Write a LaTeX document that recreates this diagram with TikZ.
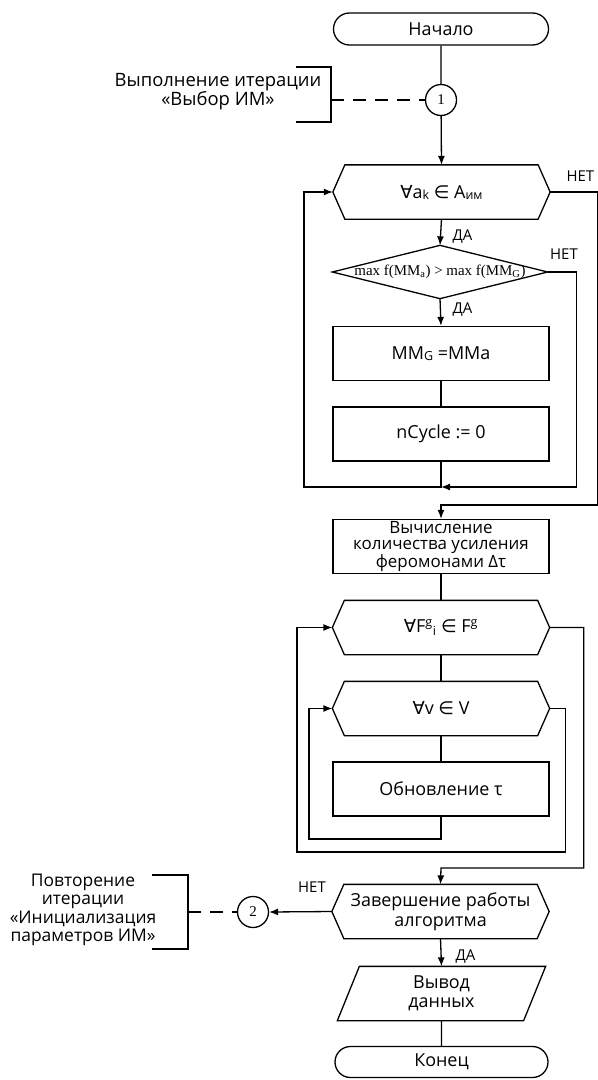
\documentclass[tikz,border=0pt]{standalone}
\usepackage{fontspec}
\setmainfont{Open Sans}
\newfontfamily\symfont{DejaVu Sans}
\newfontfamily\serifrm{Liberation Serif}
\usepackage{tikz}
\usetikzlibrary{arrows.meta}
\usetikzlibrary{shapes}
\usetikzlibrary{positioning}
\tikzset{
  fcnode/.style = {align=center, inner sep=0pt, text centered,
    font=\fontsize{18}{19}\selectfont},
  fc_term/.style = {fcnode, rounded rectangle, draw=black,
    minimum width=215bp, minimum height=32bp},% debut / fin
  fc_box/.style = {fcnode, rectangle, draw=black,
    minimum width=216bp, minimum height=54bp},% bloc de calcul
  fc_hex/.style = {fcnode, rectangle,
    minimum width=216bp, minimum height=53bp},% boucle, contour trace a part
  fc_dia/.style = {fcnode, rectangle, font=\serifrm\fontsize{15}{15}\selectfont,
    minimum width=214bp, minimum height=52bp},% condition
  fc_io/.style = {fcnode, rectangle, font=\fontsize{18}{19}\selectfont,
    minimum width=207bp, minimum height=53bp},% sortie
  fc_con/.style = {circle, draw=black, inner sep=0pt, minimum size=31bp,
    font=\serifrm\fontsize{15}{15}\selectfont},% connecteur
  fc_lbl/.style = {inner sep=0pt, font=\fontsize{15}{15}\selectfont},% oui / non
  fc_txt/.style = {align=center, inner sep=0pt}% commentaire
}
\newcommand{\lowsub}[1]{\raisebox{-1bp}{\fontsize{12.5}{12.5}\selectfont #1}}
\newcommand{\hexpath}[1]{%
  \draw ([xshift=12bp]#1.north west) -- ([xshift=-12bp]#1.north east) -- (#1.east)
    -- ([xshift=-12bp]#1.south east) -- ([xshift=12bp]#1.south west) -- (#1.west) -- cycle;}

\begin{document}
\begin{tikzpicture}[x=1bp, y=-1bp, line width=1.3bp, line join=miter,
  >={Latex[length=9bp,width=7bp]}]
\useasboundingbox (0,0) rectangle (598,1080);

% colonne principale
\node [fc_term] (start) at (441,29) {Начало};
\node [fc_con] (c1) at (441,100) {1};
\node [fc_hex] (loopA) at (441.5,192) {{\symfont ∀}a\lowsub{k} {\symfont ∈} A\lowsub{им}};
\node [fc_dia] (cmpD) at (440,272) {max f(MM\textsubscript{a}) > max f(MM\textsubscript{G})};
\node [fc_box] (setG) at (441,353.5) {MM\lowsub{G} =MMa};
\node [fc_box] (ncyc) at (441,434) {nCycle := 0};
\node [fc_box, font=\fontsize{17}{16.5}\selectfont] (calc) at (441,546.5)
  {Вычисление\\количества усиления\\феромонами Δτ};
\node [fc_hex] (loopF) at (441,627.5)
  {{\symfont ∀}F\textsuperscript{g}\textsubscript{i} {\symfont ∈} F\textsuperscript{g}};
\node [fc_hex] (loopV) at (441,708.5) {{\symfont ∀}v {\symfont ∈} V};
\node [fc_box] (upd) at (441,789) {Обновление τ};
\node [fc_hex, font=\fontsize{18}{20}\selectfont] (endQ) at (440.5,911.5)
  {Завершение работы\\алгоритма};
\node [fc_con] (c2) at (253,912) {2};
\node [fc_io] (outp) at (441.5,993.5) {Вывод\\данных};
\node [fc_term, minimum width=213bp, minimum height=31bp] (stop) at (441.5,1062) {Конец};

% contours
\hexpath{loopA}
\hexpath{loopF}
\hexpath{loopV}
\hexpath{endQ}
\draw (cmpD.north) -- (cmpD.east) -- (cmpD.south) -- (cmpD.west) -- cycle;
\draw ([xshift=22bp]outp.north west) -- (outp.north east)
  -- ([xshift=-22bp]outp.south east) -- (outp.south west) -- cycle;

% oui / non
\node [fc_lbl, anchor=west] (nA) at (566,176) {НЕТ};
\node [fc_lbl, anchor=west] (yA) at (452,237) {ДА};
\node [fc_lbl] (nD) at (564,254) {НЕТ};
\node [fc_lbl, anchor=west] (yD) at (452,310) {ДА};
\node [fc_lbl] (nQ) at (312,887) {НЕТ};
\node [fc_lbl, anchor=west] (yQ) at (455,957) {ДА};

% liaisons
\coordinate (jn) at (441,487);
\coordinate (rc) at (598,505);
\coordinate (jc) at (441,505);
\coordinate (jv) at (441,839);
\coordinate (jf) at (297,852);
\coordinate (jq) at (441,868);

\draw (start) -- (c1);
\draw [->] (c1) -- (loopA.north);
\draw [->] (loopA.south) -- (cmpD.north);
\draw [->] (cmpD.south) -- (setG.north);
\draw (setG) -- (ncyc);
\draw [->] (ncyc.south) -- (jn) -- ++(-137,0) |- (loopA.west);
\draw [->] (cmpD.east) -- ++(29,0) |- (jn);
\draw [->] (loopA.east) -| (rc) -- (jc) -- (calc.north);
\draw (calc) -- (loopF);
\draw (loopF) -- (loopV);
\draw (loopV) -- (upd);
\draw [->] (upd.south) -- (jv) -- ++(-132,0) |- (loopV.west);
\draw [->] (loopV.east) -- ++(16,0) |- (jf) |- (loopF.west);
\draw [->] (loopF.east) -- ++(34,0) |- (jq) -- (endQ.north);
\draw [->] (endQ.west) -- (c2.east);
\draw [->] (endQ.south) -- (outp.north);
\draw (outp) -- (stop);

% renvois
\coordinate (br1) at (331,100);
\coordinate (br2) at (188,912);
\draw [dash pattern=on 13bp off 9bp] (br1) -- (c1.west);
\draw (br1) ++(-35,-33) -- ++(35,0) -- ++(0,55) -- ++(-35,0);
\draw [dash pattern=on 13bp off 9bp] (br2) -- (c2.west);
\draw (br2) ++(-36,-37) -- ++(36,0) -- ++(0,74) -- ++(-36,0);
\node [fc_txt, font=\fontsize{18.5}{19}\selectfont] (note1) at (218,92)
  {Выполнение итерации\\«Выбор ИМ»};
\node [fc_txt, font=\fontsize{17.5}{18.5}\selectfont] (note2) at (83,910)
  {Повторение\\итерации\\«Инициализация\\параметров ИМ»};
\end{tikzpicture}
\end{document}
